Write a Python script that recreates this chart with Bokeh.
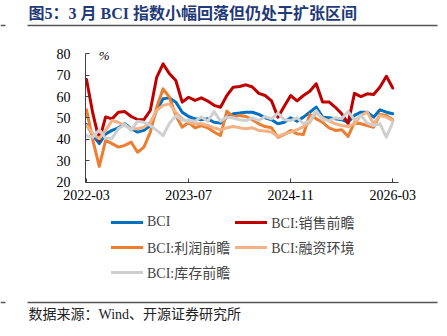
from bokeh.plotting import figure
from bokeh.models import (Range1d, FixedTicker, Legend, LegendItem, Label, LinearAxis,
                          BoxAnnotation)
from bokeh.embed import file_html
from bokeh.resources import INLINE

# ---------------- data (monthly, 2022-03 .. 2026-03) ----------------
tick_pos = [0, 16, 32, 48]
tick_labels = ["2022-03", "2023-07", "2024-11", "2026-03"]
y_ticks = [20, 30, 40, 50, 60, 70, 80]
months = list(range(49))

bci = [47, 42, 38, 42.6, 44.2, 45.4, 47.3, 45, 43.4, 44.2, 46.5, 53.5, 59, 59.4, 57.4, 52.7,
       50.7, 49.6, 49.2, 49.6, 48, 47.6, 50.4, 52, 52.3, 52.7, 52.7, 51.7, 50.1, 49.2, 47.3, 48,
       50.1, 48.5, 50.4, 52.7, 55.1, 50.4, 50.1, 49.6, 49.2, 48, 51.2, 52.7, 52.7, 50.4, 53.8, 52.7, 52]
sales = [68, 52, 39.5, 50.5, 49.6, 52.7, 53, 50.7, 49.3, 49.2, 53.5, 69, 75.3, 70.7, 67.5, 57.4,
         59.7, 58.2, 59.4, 57.9, 55.9, 55, 60.5, 64.4, 64.7, 65.5, 64.5, 61.5, 60.5, 58, 50.4, 55.5,
         60.5, 58, 60.5, 62.5, 66, 57.5, 57.5, 55, 52, 47.5, 61.5, 60, 61.3, 61, 64.5, 69.5, 64]
profit = [53.8, 39.5, 27.4, 39.5, 38, 36.4, 37.2, 38.7, 34, 36.4, 43.4, 55, 63.6, 59.7, 51.2, 45.7,
          48, 45.4, 46.5, 45.4, 43.4, 41.8, 53.2, 50.4, 51.2, 50.7, 49.2, 47.3, 46, 45.4, 41, 42.3,
          44.2, 42.6, 42.3, 51.7, 49.6, 48, 45.4, 44.2, 44.5, 41.4, 48, 47.3, 46.5, 45.7, 51.7, 51.2, 49.2]
finance = [46.5, 42.6, 40.3, 44.2, 48.8, 48, 46.5, 45, 45, 45.7, 48, 53.5, 55.9, 56.6, 52.7, 49.6,
           48, 47.3, 47.3, 46.5, 45.4, 44.5, 45.4, 46, 45.4, 45, 45.4, 44.2, 43.9, 43.4, 41.4, 42.6,
           43.4, 44.5, 46, 48, 52.7, 50.1, 48.5, 47.3, 46.5, 46, 47.3, 51.2, 52.7, 47.3, 51.2, 50.4, 48.8]
inventory = [41.8, 41, 44.5, 40.5, 40.5, 45, 47, 44.2, 48.5, 48, 46.5, 44.2, 41.8, 47.5, 51, 49,
             49, 48.5, 50.5, 48.5, 53, 48.5, 50.5, 50, 49.2, 48.8, 50.1, 48.8, 50.7, 49.6, 52.3, 49.2,
             48.8, 50.1, 47.3, 48.8, 53.5, 49.2, 48.8, 50.1, 49.6, 53, 49.2, 51.2, 47.6, 46.5, 47.3, 41, 48]

series_names = ["BCI", "BCI:销售前瞻", "BCI:利润前瞻", "BCI:融资环境", "BCI:库存前瞻"]
series_vals = [bci, sales, profit, finance, inventory]
series_colors = ["#0070C0", "#C00000", "#ED7D31", "#F4B183", "#CFCFCF"]
legend_order = [0, 2, 4, 1, 3]  # column-major fill -> rows: BCI|销售, 利润|融资, 库存

title_text = "图5：3 月 BCI 指数小幅回落但仍处于扩张区间"
source_text = "数据来源：Wind、开源证券研究所"

SERIF = "'Liberation Serif', 'Noto Sans CJK SC'"
AX = "#404040"
W, H = 447, 336

# Frame covers the whole canvas; chart axes are placed at fixed data locations.
p = figure(width=W, height=H, x_range=Range1d(-13.48, 56.58), y_range=Range1d(-52.1, 104.9),
           output_backend="svg", toolbar_location=None,
           x_axis_location=None, y_axis_location=None,
           min_border=0, min_border_left=0, min_border_right=0,
           min_border_top=0, min_border_bottom=0)
p.grid.visible = False
p.outline_line_color = None

renderers = []
for vals, col in zip(series_vals, series_colors):
    r = p.line(months, vals, line_color=col, line_width=3, line_join="round", line_cap="round")
    renderers.append(r)

xa = LinearAxis(fixed_location=20, bounds=(-0.16, 48.9), ticker=FixedTicker(ticks=tick_pos),
                major_label_overrides={k: v for k, v in zip(tick_pos, tick_labels)})
ya = LinearAxis(fixed_location=-0.16, bounds=(20, 80), ticker=FixedTicker(ticks=y_ticks))
for ax in (xa, ya):
    ax.axis_line_color = AX
    ax.major_tick_line_color = AX
    ax.minor_tick_line_color = None
    ax.major_tick_in = 4
    ax.major_tick_out = 0
    ax.major_label_text_font = SERIF
    ax.major_label_text_font_size = "14px"
    ax.major_label_text_color = "#000000"
xa.major_label_standoff = 8
ya.major_label_standoff = 15
p.add_layout(xa, "below")
p.add_layout(ya, "left")

p.add_layout(Label(x=1.9, y=79, text="%", text_font=SERIF, text_font_style="italic",
                   text_font_size="13px", text_baseline="middle", text_color="#000000"))

legend = Legend(items=[LegendItem(label=series_names[i], renderers=[renderers[i]]) for i in legend_order],
                location=(111, 54), ncols=2, padding=0, margin=0, spacing=5,
                glyph_width=32, glyph_height=20, label_height=20, label_standoff=4,
                label_text_font=SERIF, label_text_font_size="14px",
                border_line_color=None, background_fill_alpha=0)
p.add_layout(legend)

# ---------------- title, rules, source (screen units, y from bottom) ----------------
p.add_layout(Label(x=28, y=H - 13, x_units="screen", y_units="screen", text=title_text,
                   text_font=SERIF, text_font_style="bold", text_font_size="16px",
                   text_color="#1F3A78", text_baseline="middle"))
for (l, r_, yy) in [(27, 437, 25), (0, 5, 25), (27, 437, 302), (0, 5, 302)]:
    p.add_layout(BoxAnnotation(left=l, right=r_, top=H - yy + 0.75, bottom=H - yy - 0.75,
                               left_units="screen", right_units="screen",
                               top_units="screen", bottom_units="screen",
                               fill_color="#555555", fill_alpha=1, line_color=None))
p.add_layout(Label(x=28, y=H - 314, x_units="screen", y_units="screen", text=source_text,
                   text_font=SERIF, text_font_size="14px", text_baseline="middle",
                   text_color="#222222"))

open("out.html", "w").write(file_html(p, INLINE))
